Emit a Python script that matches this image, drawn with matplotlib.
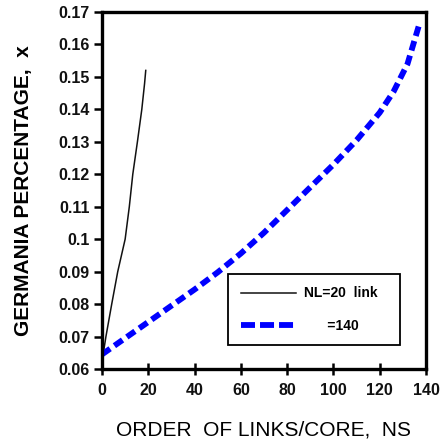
import matplotlib
matplotlib.use("Agg")
import matplotlib.pyplot as plt
from matplotlib.lines import Line2D

plt.rcParams['font.family'] = ['Liberation Sans', 'DejaVu Sans']

# NL = 20 links
ns_20 = [0.6, 1.7, 4.2, 6.8, 10.0, 11.8, 13.3, 15.3, 17.2, 18.4, 18.9]
x_20 = [0.065, 0.070, 0.080, 0.090, 0.100, 0.110, 0.120, 0.130, 0.140, 0.148, 0.152]

# NL = 140 links
ns_140 = [0, 10, 20, 30, 40, 50, 60, 70, 80, 90, 100, 110, 120, 126, 132, 137]
x_140 = [0.0645, 0.0695, 0.0745, 0.0795, 0.0845, 0.0898, 0.0956, 0.1020, 0.1090,
         0.1160, 0.1230, 0.1305, 0.1390, 0.1455, 0.1540, 0.1660]

x_ticks = [0, 20, 40, 60, 80, 100, 120, 140]
y_ticks = [0.06, 0.07, 0.08, 0.09, 0.10, 0.11, 0.12, 0.13, 0.14, 0.15, 0.16, 0.17]
y_tick_labels = ['0.06', '0.07', '0.08', '0.09', '0.1', '0.11', '0.12', '0.13',
                 '0.14', '0.15', '0.16', '0.17']
legend_labels = ['NL=20  link', '      =140']

BLUE = '#0000ff'
LW_BLUE = 4.2

fig = plt.figure(figsize=(4.42, 4.45), dpi=100)
ax = fig.add_axes([102 / 442, 1 - 369 / 445, 324 / 442, 357 / 445])

ax.plot(ns_20, x_20, color='#111111', lw=1.1)
ax.plot(ns_140, x_140, color=BLUE, lw=LW_BLUE, dashes=(1.7, 0.9),
        dash_capstyle='butt')

ax.set_xlim(0, 140)
ax.set_ylim(0.06, 0.17)
ax.set_xticks(x_ticks)
ax.set_xticklabels([str(t) for t in x_ticks])
ax.set_yticks(y_ticks)
ax.set_yticklabels(y_tick_labels)

for s in ax.spines.values():
    s.set_linewidth(2.4)

ax.tick_params(axis='x', direction='inout', length=8, width=1.8, pad=6,
               labelsize=11.5)
ax.tick_params(axis='y', direction='out', length=6, width=1.8, pad=3,
               labelsize=11.5)
for lab in ax.get_xticklabels() + ax.get_yticklabels():
    lab.set_fontweight('bold')
    lab.set_color('#111111')

ax.set_xlabel('ORDER  OF LINKS/CORE,  NS', fontsize=15, labelpad=16)
ax.set_ylabel('GERMANIA PERCENTAGE,  x', fontsize=15, fontweight='bold')
ax.yaxis.set_label_coords(-0.213, 0.5)

handles = [
    Line2D([], [], color='#111111', lw=1.1),
    Line2D([], [], color=BLUE, lw=LW_BLUE, dashes=(2.4, 0.86),
           dash_capstyle='butt'),
]
leg = ax.legend(handles, legend_labels, loc='lower left',
                bbox_to_anchor=(126 / 324, (369 - 345) / 357,
                                172 / 324, 81 / 357),
                mode='expand', fancybox=False, framealpha=1,
                handlelength=4.0, handletextpad=0.6, labelspacing=1.3,
                borderpad=0.9, borderaxespad=0,
                prop={'size': 10, 'weight': 'bold'})
leg.get_frame().set_edgecolor('black')
leg.get_frame().set_linewidth(1.3)

fig.savefig('out.png', dpi=100)
